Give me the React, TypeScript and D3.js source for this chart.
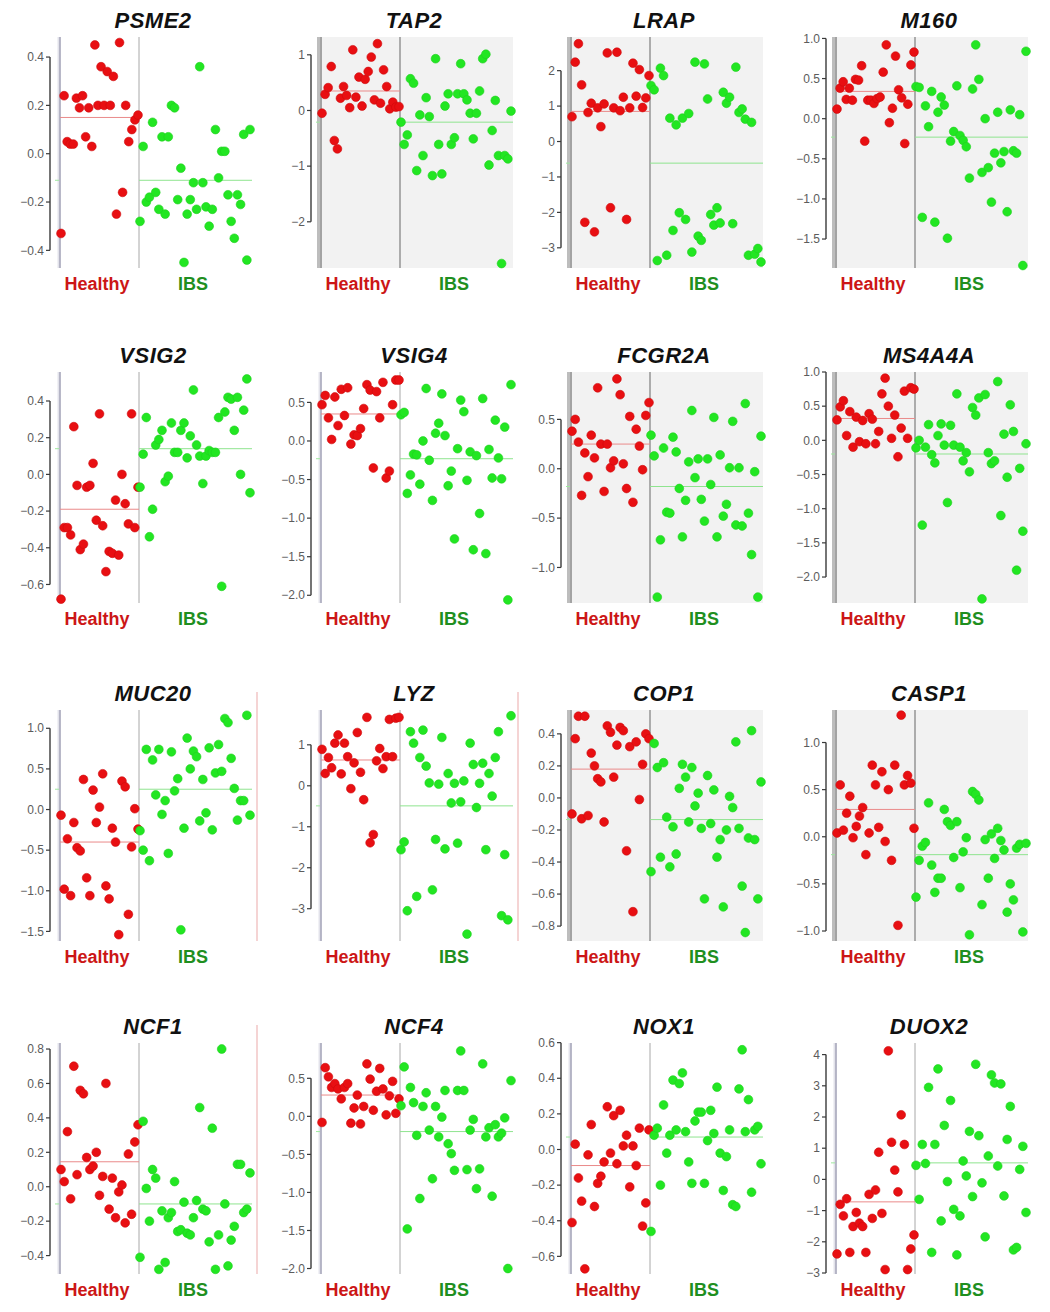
import * as d3 from 'd3';
import React from 'react';

// gene panels, left to right, top to bottom
const genes = [
  'PSME2', 'TAP2', 'LRAP', 'M160',
  'VSIG2', 'VSIG4', 'FCGR2A', 'MS4A4A',
  'MUC20', 'LYZ', 'COP1', 'CASP1',
  'NCF1', 'NCF4', 'NOX1', 'DUOX2',
];

// expression values, in the left-to-right order of the jittered dots
const healthyPSME2 = [-0.33, 0.24, 0.05, 0.04, 0.04, 0.23, 0.19, 0.24, 0.07, 0.19, 0.03, 0.45, 0.2, 0.36, 0.2, 0.34, 0.2, 0.32, -0.25, 0.46, -0.16, 0.2, 0.05, 0.1, 0.14, 0.16];
const ibsPSME2 = [-0.28, 0.03, -0.2, -0.18, 0.13, -0.16, -0.23, 0.07, -0.25, 0.07, 0.2, 0.19, -0.19, -0.06, -0.45, -0.25, -0.19, -0.12, -0.23, 0.36, -0.12, -0.22, -0.3, -0.23, 0.1, -0.1, 0.01, 0.01, -0.17, -0.28, -0.35, -0.17, -0.21, 0.08, -0.44, 0.1];

const healthyTAP2 = [-0.05, 0.29, 0.41, 0.79, -0.54, -0.69, 0.22, 0.43, 0.27, 0.05, 1.09, 0.24, 0.6, 0.08, 0.56, 0.7, 0.96, 0.19, 1.2, 0.13, 0.73, 0.43, 0.03, 0.15, 0.06, 0.07];
const ibsTAP2 = [-0.21, -0.61, -0.44, 0.57, 0.49, -1.08, -0.08, -0.81, 0.23, -0.11, -1.17, 0.93, -0.61, -1.14, 0.08, 0.3, -0.61, -0.49, 0.3, 0.84, 0.3, 0.19, -0.05, -0.51, -0.05, 0.35, 0.93, 1.01, -0.98, -0.36, 0.18, -0.81, -2.75, -0.81, -0.87, -0.01];

const healthyLRAP = [0.7, 2.24, 2.76, 1.6, -2.28, 0.82, 1.08, -2.55, 0.95, 0.42, 1.06, 2.5, -1.87, 0.95, 2.52, 0.87, 1.25, -2.2, 0.95, 2.21, 1.28, 2.03, 0.96, 1.23, 1.86];
const ibsLRAP = [1.58, 1.46, -3.36, 2.07, 1.86, -3.21, 0.66, -2.51, 0.47, -2.01, 0.66, -2.2, 0.79, -3.12, 2.24, -2.67, -2.79, 2.19, 1.2, -2.06, -2.36, -1.87, -2.3, 1.39, 1.08, 1.25, -2.32, 2.1, 0.82, 0.92, 0.63, -3.21, 0.54, -3.18, -3.02, -3.4];

const healthyM160 = [0.12, 0.38, 0.46, 0.24, 0.38, 0.23, 0.49, 0.48, 0.66, -0.28, 0.23, 0.23, 0.19, 0.25, 0.27, 0.58, 0.92, -0.05, 0.13, 0.78, 0.36, 0.26, -0.31, 0.18, 0.67, 0.83];
const ibsM160 = [0.4, 0.39, -1.23, 0.16, -0.1, 0.34, -1.29, 0.08, 0.27, 0.17, -1.49, -0.28, -0.16, 0.41, -0.21, -0.27, -0.35, -0.74, 0.37, 0.92, 0.49, -0.67, 0.0, -0.61, -1.04, -0.43, 0.08, -0.55, -0.41, -1.16, 0.11, -0.4, -0.43, 0.05, -1.83, 0.84];

const healthyVSIG2 = [-0.68, -0.29, -0.29, -0.33, 0.26, -0.06, -0.41, -0.38, -0.07, -0.06, 0.06, -0.25, 0.33, -0.28, -0.53, -0.42, -0.43, -0.14, -0.44, 0.0, -0.16, -0.27, 0.33, -0.29, -0.07];
const ibsVSIG2 = [-0.07, 0.11, 0.31, -0.34, -0.19, 0.16, 0.19, 0.24, -0.04, -0.01, 0.28, 0.12, 0.12, 0.24, 0.28, 0.09, 0.21, 0.46, 0.16, 0.1, -0.05, 0.1, 0.13, 0.12, 0.12, 0.31, -0.61, 0.34, 0.42, 0.41, 0.24, 0.42, 0.0, 0.35, 0.52, -0.1];

const healthyVSIG4 = [0.47, 0.59, 0.3, 0.02, 0.57, 0.2, 0.67, 0.33, 0.69, -0.04, 0.08, 0.07, 0.16, 0.42, 0.73, 0.66, -0.35, 0.64, 0.3, 0.76, -0.48, -0.39, 0.47, 0.79, 0.79];
const ibsVSIG4 = [0.34, 0.37, -0.68, -0.44, -0.17, -0.18, -0.56, 0.0, 0.68, -0.25, -0.77, 0.1, 0.23, 0.61, 0.07, -0.58, -0.39, -1.27, -0.1, 0.53, 0.38, -0.51, -0.14, -1.41, -0.19, -0.94, 0.55, -1.46, -0.11, -0.48, 0.27, -0.22, -0.49, 0.18, -2.06, 0.73];

const healthyFCGR2A = [0.38, 0.5, 0.27, -0.27, 0.16, -0.08, 0.34, 0.11, 0.82, 0.25, -0.23, 0.25, 0.01, 0.08, 0.91, 0.75, 0.05, -0.2, 0.53, -0.34, 0.4, 0.23, -0.01, 0.54, 0.67];
const ibsFCGR2A = [0.34, 0.13, -1.3, -0.72, 0.21, -0.44, -0.45, 0.32, 0.17, -0.2, -0.69, -0.32, 0.07, 0.59, -0.09, 0.1, -0.31, -0.53, 0.1, -0.16, 0.52, -0.69, 0.14, -0.48, -0.36, 0.01, 0.48, -0.57, 0.01, -0.58, 0.66, -0.45, -0.87, -0.03, -1.3, 0.33];

const healthyMS4A4A = [0.3, 0.49, 0.58, 0.07, 0.42, -0.1, 0.34, -0.02, 0.29, -0.05, 0.39, 0.31, -0.05, 0.13, 0.68, 0.91, 0.5, 0.03, 0.37, -0.24, 0.18, 0.72, 0.03, 0.77, 0.75];
const ibsMS4A4A = [-0.11, 0.0, -1.24, -0.1, 0.23, -0.21, -0.33, 0.07, 0.24, -0.07, -0.91, 0.22, -0.07, 0.68, -0.1, -0.3, -0.18, -0.46, 0.48, 0.37, 0.62, -2.32, 0.67, -0.18, -0.34, -0.3, 0.86, -1.1, 0.09, -0.54, 0.52, 0.13, -1.9, -0.41, -1.33, -0.05];

const healthyMUC20 = [-0.07, -0.98, -0.36, -1.06, -0.16, -0.47, -0.51, 0.37, -0.84, -1.06, 0.24, -0.16, 0.03, 0.44, -0.94, -1.1, -0.23, -0.4, -1.54, 0.35, 0.28, -1.29, -0.46, 0.01, -0.24];
const ibsMUC20 = [-0.26, -0.5, 0.74, -0.63, 0.61, 0.18, 0.74, -0.06, 0.11, -0.54, 0.71, 0.23, 0.38, -1.48, -0.23, 0.88, 0.5, 0.72, 0.65, -0.14, 0.37, -0.04, 0.76, -0.25, 0.45, 0.8, 0.47, 1.12, 1.07, 0.63, 0.26, -0.13, 0.11, 0.11, 1.16, -0.07];

const healthyLYZ = [0.89, 0.3, 0.69, 0.44, 1.04, 1.24, 0.29, 1.04, 0.71, -0.07, 0.56, 1.3, 0.33, -0.34, 1.67, -1.39, -1.19, 0.61, 0.91, 0.42, 0.71, 1.62, 0.71, 1.65, 1.67];
const ibsLYZ = [-1.56, -1.37, -3.05, 1.32, 1.04, -2.7, 0.69, 1.36, 0.48, 0.07, -2.54, -1.31, 0.04, 1.18, -1.54, 0.3, -0.42, 0.06, -1.4, -0.39, 0.12, -3.62, 1.04, 0.52, -0.53, 0.06, 0.55, -1.56, 0.3, -0.25, 0.69, 1.32, -3.17, -1.68, -3.27, 1.71];

const healthyCOP1 = [-0.1, 0.37, 0.51, -0.13, 0.51, -0.11, 0.28, 0.2, 0.12, 0.1, -0.15, 0.45, 0.41, 0.13, 0.33, 0.44, 0.42, -0.33, 0.32, -0.71, 0.35, -0.01, 0.21, 0.4, 0.37];
const ibsCOP1 = [-0.46, 0.34, 0.19, -0.37, 0.22, -0.12, -0.43, -0.18, -0.35, 0.06, 0.21, 0.13, -0.15, 0.19, -0.05, 0.03, -0.19, -0.63, 0.14, -0.16, 0.05, -0.37, -0.26, -0.68, -0.2, 0.01, -0.06, 0.35, -0.19, -0.55, -0.84, -0.25, 0.42, -0.26, -0.63, 0.1];

const healthyCASP1 = [0.04, 0.55, 0.07, 0.25, 0.43, -0.01, 0.11, 0.22, 0.31, -0.19, 0.04, 0.76, 0.55, 0.1, 0.69, -0.05, 0.5, -0.25, 0.76, -0.94, 1.29, 0.55, 0.65, 0.57, 0.09];
const ibsCASP1 = [-0.64, -0.25, -0.1, -0.06, 0.36, -0.3, -0.59, -0.44, -0.44, 0.29, 0.16, 0.12, -0.22, 0.16, -0.54, -0.16, -0.01, -1.04, 0.48, 0.45, 0.39, -0.72, -0.03, -0.44, 0.03, -0.23, 0.09, -0.04, -0.14, -0.8, -0.5, -0.67, -0.12, -0.08, -1.01, -0.07];

const healthyNCF1 = [0.1, 0.03, 0.32, -0.07, 0.7, 0.07, 0.56, 0.54, 0.17, 0.1, 0.12, 0.2, -0.05, 0.06, 0.6, -0.13, 0.05, -0.18, -0.03, 0.01, -0.21, 0.19, -0.16, 0.26, 0.36];
const ibsNCF1 = [-0.41, 0.38, -0.01, -0.2, 0.1, 0.05, -0.48, -0.14, -0.44, -0.18, -0.15, 0.03, -0.26, -0.25, -0.09, -0.27, -0.28, -0.18, -0.08, 0.46, -0.13, -0.14, -0.32, 0.34, -0.48, -0.28, 0.8, -0.1, -0.46, -0.31, -0.23, 0.13, 0.13, -0.15, -0.13, 0.08];

const healthyNCF4 = [-0.08, 0.64, 0.52, 0.38, 0.43, 0.36, 0.23, 0.38, 0.43, -0.09, 0.11, 0.28, -0.1, 0.13, 0.69, 0.49, 0.08, 0.33, 0.63, 0.36, 0.02, 0.27, 0.46, 0.04, 0.23];
const ibsNCF4 = [0.14, 0.65, -1.48, 0.38, 0.18, -0.25, -1.08, 0.13, 0.31, -0.18, -0.82, 0.13, -0.27, -0.01, 0.34, -0.36, -0.49, -0.71, 0.34, 0.86, 0.34, -0.7, -0.18, -0.04, -0.95, -0.69, 0.69, -0.27, -0.15, -1.05, -0.11, -0.27, -0.22, -0.02, -2.0, 0.47];

const healthyNOX1 = [-0.41, 0.03, -0.16, -0.29, -0.67, -0.03, 0.14, -0.32, -0.19, -0.15, -0.07, 0.24, -0.02, 0.19, -0.08, 0.22, 0.02, 0.08, -0.21, 0.02, -0.09, 0.12, -0.43, -0.3, 0.11];
const ibsNOX1 = [-0.46, 0.08, 0.12, -0.2, 0.25, -0.02, 0.08, 0.39, 0.11, 0.37, 0.43, 0.1, -0.07, -0.19, 0.16, 0.21, 0.21, -0.19, 0.05, 0.22, 0.09, 0.35, -0.02, -0.23, -0.04, 0.11, -0.31, -0.32, 0.34, 0.56, 0.1, 0.28, -0.24, 0.11, 0.13, -0.08];

const healthyDUOX2 = [-2.39, -0.8, -1.17, -0.62, -2.34, -1.51, -1.06, -1.4, -1.51, -2.34, -0.48, -1.25, -0.34, 0.87, -1.09, -2.89, 4.12, 1.19, 0.3, -0.4, 2.07, 1.12, -2.89, -2.23, -1.78];
const ibsDUOX2 = [0.45, -0.64, 1.12, 0.51, 2.95, -2.34, 1.12, 3.54, -1.33, 1.73, -0.07, 2.53, -0.96, -2.42, -1.17, 0.59, 0.11, 1.54, -0.55, 3.69, 1.4, -0.11, -1.84, 0.75, 3.35, 3.09, 0.43, 3.06, -0.53, 1.28, 2.34, -2.26, -2.18, 0.32, 1.06, -1.06];

const healthyValues = [
  healthyPSME2, healthyTAP2, healthyLRAP, healthyM160,
  healthyVSIG2, healthyVSIG4, healthyFCGR2A, healthyMS4A4A,
  healthyMUC20, healthyLYZ, healthyCOP1, healthyCASP1,
  healthyNCF1, healthyNCF4, healthyNOX1, healthyDUOX2,
];
const ibsValues = [
  ibsPSME2, ibsTAP2, ibsLRAP, ibsM160,
  ibsVSIG2, ibsVSIG4, ibsFCGR2A, ibsMS4A4A,
  ibsMUC20, ibsLYZ, ibsCOP1, ibsCASP1,
  ibsNCF1, ibsNCF4, ibsNOX1, ibsDUOX2,
];

// group means [Healthy, IBS]
const groupMeans: [number, number][] = [
  [0.15, -0.11], [0.35, -0.21], [0.85, -0.61], [0.34, -0.23],
  [-0.19, 0.14], [0.35, -0.23], [0.25, -0.18], [0.32, -0.2],
  [-0.4, 0.25], [0.63, -0.49], [0.18, -0.135], [0.29, -0.19],
  [0.145, -0.1], [0.28, -0.2], [-0.09, 0.07], [-0.72, 0.53],
];

// visible y range of each panel [bottom, top]
const yDomains: [number, number][] = [
  [-0.473, 0.483], [-2.83, 1.32], [-3.57, 2.95], [-1.861, 1.018],
  [-0.701, 0.558], [-2.1, 0.894], [-1.36, 0.98], [-2.38, 1.0],
  [-1.618, 1.225], [-3.788, 1.85], [-0.893, 0.549], [-1.106, 1.345],
  [-0.507, 0.835], [-2.072, 0.964], [-0.699, 0.598], [-3.032, 4.372],
];

const yTicks: number[][] = [
  [-0.4, -0.2, 0, 0.2, 0.4], [-2, -1, 0, 1], [-3, -2, -1, 0, 1, 2], [-1.5, -1, -0.5, 0, 0.5, 1],
  [-0.6, -0.4, -0.2, 0, 0.2, 0.4], [-2, -1.5, -1, -0.5, 0, 0.5], [-1, -0.5, 0, 0.5], [-2, -1.5, -1, -0.5, 0, 0.5, 1],
  [-1.5, -1, -0.5, 0, 0.5, 1], [-3, -2, -1, 0, 1], [-0.8, -0.6, -0.4, -0.2, 0, 0.2, 0.4], [-1, -0.5, 0, 0.5, 1],
  [-0.4, -0.2, 0, 0.2, 0.4, 0.6, 0.8], [-2, -1.5, -1, -0.5, 0, 0.5], [-0.6, -0.4, -0.2, 0, 0.2, 0.4, 0.6], [-3, -2, -1, 0, 1, 2, 3, 4],
];

const grayPanels = ['TAP2', 'LRAP', 'M160', 'FCGR2A', 'MS4A4A', 'COP1', 'CASP1'];
const pinkEdgePanels = ['MUC20', 'LYZ', 'NCF1'];

const columnLeft = [60, 321, 571, 836];
const rowTop = [37, 372, 710, 1043];
const plotH = 231;
const healthyW = 79;
const plotW = 192;

const font = '"Liberation Sans", Arial, sans-serif';

function Panel({ index }: { index: number }) {
  const gene = genes[index];
  const L = columnLeft[index % 4];
  const top = rowTop[Math.floor(index / 4)];
  const bottom = top + plotH;
  const mid = L + healthyW;
  const R = L + plotW;
  const ax = L - 10;
  const gray = grayPanels.includes(gene);

  const y = d3.scaleLinear().domain(yDomains[index]).range([bottom, top]);
  const hv = healthyValues[index];
  const iv = ibsValues[index];
  const xh = d3.scalePoint<number>().domain(d3.range(hv.length)).range([L + 1, mid - 1]);
  const xi = d3.scalePoint<number>().domain(d3.range(iv.length)).range([mid + 1, R - 2]);

  const ticks = yTicks[index];
  const fmt = ticks.every(Number.isInteger) ? d3.format('d') : d3.format('.1f');
  const [hMean, iMean] = groupMeans[index];

  return (
    <g>
      {gray && <rect x={L - 4} y={top} width={R - L + 4} height={plotH} fill="#f2f2f2" />}
      {gray ? (
        <>
          <rect x={L - 4} y={top} width={3} height={plotH} fill="#bdbdbd" />
          <line x1={L} x2={L} y1={top} y2={bottom} stroke="#555" strokeWidth={1} />
          <line x1={mid} x2={mid} y1={top} y2={bottom} stroke="#666" strokeWidth={1} />
        </>
      ) : (
        <>
          <line x1={L - 1} x2={L - 1} y1={top} y2={bottom} stroke="#e2e2ea" strokeWidth={3} />
          <line x1={L} x2={L} y1={top} y2={bottom} stroke="#a4a5b8" strokeWidth={1.5} />
          <line x1={mid} x2={mid} y1={top} y2={bottom} stroke="#a8a8a8" strokeWidth={1} />
        </>
      )}
      {pinkEdgePanels.includes(gene) && (
        <line x1={R + 5} x2={R + 5} y1={top - 18} y2={bottom} stroke="#f2c6c6" strokeWidth={1.5} />
      )}

      {/* y axis */}
      <line
        x1={ax}
        x2={ax}
        y1={y(ticks[0])}
        y2={y(ticks[ticks.length - 1])}
        stroke="#3a3a3a"
        strokeWidth={1.4}
      />
      {ticks.map((t) => (
        <g key={t}>
          <line x1={ax - 4} x2={ax} y1={y(t)} y2={y(t)} stroke="#3a3a3a" strokeWidth={1.2} />
          <text
            x={ax - 6}
            y={y(t)}
            dy="0.35em"
            textAnchor="end"
            fontSize={12}
            fill="#5c5c5c"
            fontFamily={font}
          >
            {fmt(t)}
          </text>
        </g>
      ))}

      {/* group means */}
      <line x1={L - 5} x2={L - 1} y1={y(iMean)} y2={y(iMean)} stroke="#9ee89e" strokeWidth={1} />
      <line x1={L} x2={mid} y1={y(hMean)} y2={y(hMean)} stroke="#ea8a8a" strokeWidth={1} />
      <line x1={mid} x2={R} y1={y(iMean)} y2={y(iMean)} stroke="#8fe48f" strokeWidth={1} />

      {hv.map((v, i) => (
        <circle key={'h' + i} cx={xh(i)} cy={y(v)} r={4.4} fill="#e80f12" stroke="#cf0a0c" strokeWidth={0.6} />
      ))}
      {iv.map((v, i) => (
        <circle key={'i' + i} cx={xi(i)} cy={y(v)} r={4.4} fill="#22e622" stroke="#1fd01f" strokeWidth={0.6} />
      ))}

      <text
        x={L + 93}
        y={top - 9}
        textAnchor="middle"
        fontSize={22}
        fontWeight="bold"
        fontStyle="italic"
        fill="#111"
        fontFamily={font}
        letterSpacing={0.5}
      >
        {gene}
      </text>
      <text x={L + 37} y={bottom + 22} textAnchor="middle" fontSize={18} fontWeight="bold" fill="#cc1616" fontFamily={font}>
        Healthy
      </text>
      <text x={L + 133} y={bottom + 22} textAnchor="middle" fontSize={18} fontWeight="bold" fill="#1f8f1f" fontFamily={font}>
        IBS
      </text>
    </g>
  );
}

export default function App() {
  return (
    <svg
      width={1050}
      height={1312}
      style={{ position: 'absolute', left: 0, top: 0, background: '#fff' }}
    >
      {genes.map((g, i) => (
        <Panel key={g} index={i} />
      ))}
    </svg>
  );
}
